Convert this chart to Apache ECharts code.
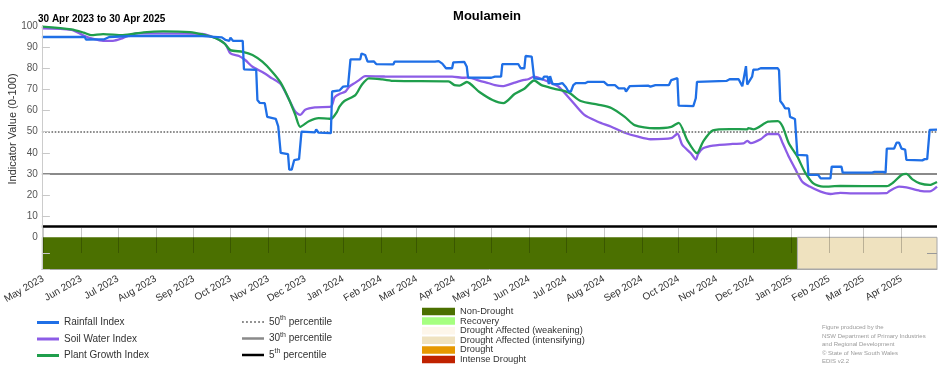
<!DOCTYPE html>
<html><head><meta charset="utf-8">
<script src="https://cdn.jsdelivr.net/npm/echarts@6/dist/echarts.min.js"></script>
<style>html,body{margin:0;padding:0;background:#fff}#c{width:952px;height:370px}</style>
</head><body><div id="c"></div>
<script>
const titleText = 'Moulamein';
const subtitleText = '30 Apr 2023 to 30 Apr 2025';
const yAxisTitle = 'Indicator Value (0-100)';
const startDate = '2023-04-30';
const endDate = '2025-04-30';
const monthNames = ['Jan','Feb','Mar','Apr','May','Jun','Jul','Aug','Sep','Oct','Nov','Dec'];
const monthTicks = ['2023-05-01','2023-06-01','2023-07-01','2023-08-01','2023-09-01','2023-10-01','2023-11-01','2023-12-01',
  '2024-01-01','2024-02-01','2024-03-01','2024-04-01','2024-05-01','2024-06-01','2024-07-01','2024-08-01','2024-09-01',
  '2024-10-01','2024-11-01','2024-12-01','2025-01-01','2025-02-01','2025-03-01','2025-04-01'];
const yTickLabels = [0,10,20,30,40,50,60,70,80,90,100];
const yMin = -15, yMax = 100;

const rainfallIndex = [
['2023-04-30',94.8],['2023-06-04',94.8],['2023-06-05',93.6],['2023-06-20',93.7],['2023-06-24',94.8],['2023-07-16',95.3],
['2023-09-08',95.2],['2023-09-24',94.6],['2023-09-27',93.4],['2023-09-30',93.0],['2023-10-01',94.5],['2023-10-03',93.0],
['2023-10-11',93.0],['2023-10-12',79.5],['2023-10-22',79.3],['2023-10-23',65.0],['2023-10-25',63.6],['2023-10-29',63.5],
['2023-10-31',57.0],['2023-11-07',56.0],['2023-11-09',52.5],['2023-11-11',40.0],['2023-11-17',39.4],['2023-11-18',32.0],
['2023-11-20',32.0],['2023-11-22',36.5],['2023-11-26',37.0],['2023-11-28',50.0],['2023-12-09',49.7],['2023-12-10',51.0],
['2023-12-12',49.5],['2023-12-22',49.3],['2023-12-23',69.0],['2023-12-29',69.5],['2024-01-01',71.3],['2024-01-05',71.5],
['2024-01-07',84.2],['2024-01-15',84.2],['2024-01-16',87.0],['2024-01-19',86.3],['2024-01-21',83.1],['2024-01-26',83.3],
['2024-01-28',82.0],['2024-02-11',81.8],['2024-02-12',83.1],['2024-03-16',83.1],['2024-03-19',83.4],['2024-03-22',82.2],
['2024-03-25',80.0],['2024-03-30',80.0],['2024-03-31',82.8],['2024-04-09',83.0],['2024-04-11',80.7],['2024-04-12',75.6],
['2024-05-01',75.5],['2024-05-04',76.0],['2024-05-09',76.0],['2024-05-10',82.0],['2024-05-23',82.0],['2024-05-25',80.0],
['2024-05-28',80.0],['2024-05-29',85.8],['2024-06-03',85.5],['2024-06-05',75.2],['2024-06-12',74.8],['2024-06-13',76.0],
['2024-06-16',76.0],['2024-06-17',72.5],['2024-06-18',76.3],['2024-06-20',72.5],['2024-06-25',72.5],['2024-06-28',73.0],
['2024-07-01',71.0],['2024-07-03',69.0],['2024-07-05',69.0],['2024-07-07',72.0],['2024-07-09',73.0],['2024-07-17',73.0],
['2024-07-19',73.6],['2024-08-01',73.6],['2024-08-04',72.0],['2024-08-10',72.0],['2024-08-13',70.5],['2024-08-18',70.5],
['2024-08-19',69.0],['2024-08-22',71.5],['2024-09-06',71.8],['2024-09-08',71.3],['2024-09-12',72.0],['2024-09-23',72.0],
['2024-09-25',74.4],['2024-09-30',75.3],['2024-10-01',62.3],['2024-10-13',62.1],['2024-10-15',65.8],['2024-10-16',73.6],
['2024-11-09',74.0],['2024-11-12',74.9],['2024-11-19',74.8],['2024-11-22',71.5],['2024-11-25',81.0],['2024-11-26',72.3],
['2024-11-30',76.0],['2024-12-01',79.3],['2024-12-05',79.5],['2024-12-07',80.0],['2024-12-21',80.0],['2024-12-22',79.0],
['2024-12-23',64.5],['2024-12-25',63.0],['2024-12-27',61.0],['2024-12-30',61.0],['2024-12-31',57.0],['2025-01-04',56.0],
['2025-01-06',39.0],['2025-01-14',38.8],['2025-01-15',29.5],['2025-01-23',29.5],['2025-01-25',27.9],['2025-02-02',27.9],
['2025-02-03',33.4],['2025-02-11',33.4],['2025-02-12',30.6],['2025-03-08',30.6],['2025-03-10',31.0],['2025-03-17',31.0],
['2025-03-18',30.6],['2025-03-19',30.6],['2025-03-20',42.0],['2025-03-26',42.0],['2025-03-28',44.8],['2025-03-30',44.8],
['2025-04-01',42.0],['2025-04-04',41.5],['2025-04-05',36.6],['2025-04-18',36.4],['2025-04-20',37.0],['2025-04-22',37.0],
['2025-04-24',50.8],['2025-04-30',51.0]
];

const soilWaterIndex = [
['2023-04-30',98.9],['2023-05-24',98.2],['2023-06-03',95.5],['2023-06-11',93.9],['2023-06-19',93.0],['2023-06-27',93.0],
['2023-07-05',94.3],['2023-07-11',95.7],['2023-07-16',96.5],['2023-09-08',96.3],['2023-09-14',95.4],['2023-09-22',93.4],
['2023-09-27',91.3],['2023-10-01',87.0],['2023-10-08',85.8],['2023-10-13',83.9],['2023-10-19',80.7],['2023-10-27',78.2],
['2023-11-04',75.2],['2023-11-11',72.5],['2023-11-18',65.0],['2023-11-23',59.4],['2023-11-27',57.9],['2023-12-01',60.4],
['2023-12-09',61.5],['2023-12-22',61.8],['2023-12-25',66.2],['2023-12-29',67.8],['2024-01-03',69.0],['2024-01-06',71.3],
['2024-01-11',73.2],['2024-01-14',74.4],['2024-01-19',76.3],['2024-02-04',76.1],['2024-03-30',76.0],['2024-04-09',75.5],
['2024-04-12',75.6],['2024-04-23',73.8],['2024-04-29',72.9],['2024-05-04',72.0],['2024-05-10',71.5],['2024-05-20',73.2],
['2024-05-28',74.5],['2024-05-31',74.8],['2024-06-05',76.0],['2024-06-11',74.9],['2024-06-21',72.5],['2024-06-25',71.3],
['2024-07-05',65.0],['2024-07-16',57.9],['2024-07-27',54.7],['2024-08-07',52.3],['2024-08-18',49.5],['2024-08-29',47.6],
['2024-09-08',46.4],['2024-09-25',46.9],['2024-09-30',49.0],['2024-10-04',43.7],['2024-10-11',39.8],['2024-10-15',36.8],
['2024-10-17',39.5],['2024-10-21',42.1],['2024-10-29',43.4],['2024-11-14',44.2],['2024-11-23',44.4],['2024-11-26',45.6],
['2024-11-29',44.6],['2024-12-07',46.4],['2024-12-13',48.9],['2024-12-21',48.9],['2024-12-25',44.5],['2024-12-30',38.1],
['2025-01-04',32.6],['2025-01-10',26.3],['2025-01-16',24.0],['2025-01-25',21.6],['2025-02-02',20.5],['2025-02-10',21.0],
['2025-02-20',20.8],['2025-03-20',20.9],['2025-03-22',21.8],['2025-03-30',24.0],['2025-04-05',23.6],['2025-04-16',22.0],
['2025-04-24',21.7],['2025-04-30',24.0]
];

const plantGrowthIndex = [
['2023-04-30',99.7],['2023-05-24',98.4],['2023-06-03',96.9],['2023-06-09',95.7],['2023-06-19',96.2],['2023-07-05',95.7],
['2023-07-22',97.0],['2023-08-07',97.5],['2023-08-29',97.1],['2023-09-08',96.0],['2023-09-19',94.2],['2023-09-26',91.8],
['2023-10-01',88.6],['2023-10-11',87.8],['2023-10-19',86.3],['2023-10-27',83.1],['2023-11-04',78.4],['2023-11-11',73.2],
['2023-11-18',65.0],['2023-11-23',57.9],['2023-11-27',52.3],['2023-12-04',54.9],['2023-12-12',56.4],['2023-12-21',56.1],
['2023-12-23',56.3],['2023-12-27',59.4],['2023-12-29',61.8],['2024-01-02',64.5],['2024-01-11',67.3],['2024-01-16',72.0],
['2024-01-22',75.2],['2024-02-02',74.7],['2024-02-12',74.0],['2024-03-27',73.8],['2024-04-01',72.0],['2024-04-05',71.8],
['2024-04-11',73.5],['2024-04-21',68.9],['2024-05-02',65.0],['2024-05-11',63.5],['2024-05-20',67.8],['2024-05-28',70.3],
['2024-06-05',74.2],['2024-06-11',72.0],['2024-06-21',70.4],['2024-07-03',68.6],['2024-07-13',64.5],['2024-07-27',62.8],
['2024-08-07',61.2],['2024-08-18',57.0],['2024-08-26',53.1],['2024-09-11',51.6],['2024-09-25',52.3],['2024-10-01',54.2],
['2024-10-08',46.0],['2024-10-16',39.8],['2024-10-21',45.3],['2024-10-29',50.6],['2024-11-12',51.2],['2024-11-26',51.1],
['2024-11-27',51.7],['2024-12-01',51.1],['2024-12-13',54.7],['2024-12-21',55.0],['2024-12-25',52.3],['2024-12-30',44.5],
['2025-01-06',38.1],['2025-01-12',31.0],['2025-01-19',25.5],['2025-01-27',24.0],['2025-02-10',24.3],['2025-03-20',24.2],
['2025-03-25',25.8],['2025-04-01',29.5],['2025-04-05',30.0],['2025-04-10',27.4],['2025-04-16',25.5],['2025-04-24',24.8],
['2025-04-30',26.2]
];

const indexNames = ['Rainfall Index','Soil Water Index','Plant Growth Index'];
const indexColors = ['#1f6fe6','#8c5ce6','#1f9e4c'];

const percentileNames = ['50th percentile','30th percentile','5th percentile'];
const percentileValues = [50, 30, 5];
const percentileColors = ['#8a8a8a','#8a8a8a','#000000'];

const droughtCategories = ['Non-Drought','Recovery','Drought Affected (weakening)','Drought Affected (intensifying)','Drought','Intense Drought'];
const droughtColors = ['#4b7000','#a6ff80','#fdf6ea','#efe2bf','#e69800','#c02200'];
const statusStart = ['2023-04-30','2025-01-06'];
const statusEnd = ['2025-01-06','2025-04-30'];
const statusCategory = ['Non-Drought','Drought Affected (intensifying)'];

const footerLines = ['Figure produced by the','NSW Department of Primary Industries','and Regional Development','\u00A9 State of New South Wales','EDIS v2.2'];

const FONT = '"Liberation Sans", Arial, sans-serif';
const toTs = s => { const [y,m,d] = s.split('-').map(Number); return Date.UTC(y, m-1, d); };
const tickTs = monthTicks.map(toTs);
const fmtMonth = v => { const d = new Date(v); return monthNames[d.getUTCMonth()] + ' ' + d.getUTCFullYear(); };

const chart = echarts.init(document.getElementById('c'), null, {renderer:'canvas'});

const lineSeries = [rainfallIndex, soilWaterIndex, plantGrowthIndex].map((arr, i) => ({
  type:'line', name: indexNames[i], data: arr.map(([d,v]) => [toTs(d), v]),
  showSymbol:false, symbol:'none', smooth: i === 0 ? false : 0.25,
  color: indexColors[i], lineStyle:{width:2.3, color: indexColors[i]},
  z: [6,4,5][i], silent:true, animation:false
}));

const pctStyles = [
  {type:[1.6,1.6], width:1.8},
  {type:'solid', width:2},
  {type:'solid', width:2.6}
];
const pctSeries = percentileNames.map((n, i) => ({
  type:'line', name:n, data:[], color: percentileColors[i], showSymbol:false,
  markLine:{silent:true, symbol:'none', label:{show:false}, animation:false,
    data:[{yAxis: percentileValues[i]}],
    lineStyle:Object.assign({color: percentileColors[i]}, pctStyles[i])},
  z:3, animation:false
}));

const statusSeries = droughtCategories.map((cat, ci) => ({
  type:'custom', name: cat, itemStyle:{color: droughtColors[ci]},
  data: statusCategory.map((c, k) => c === cat ? [toTs(statusStart[k]), toTs(statusEnd[k])] : null).filter(Boolean),
  encode:{x:[0,1]},
  renderItem:(params, api) => {
    const p0 = api.coord([api.value(0), 0]);
    const p1 = api.coord([api.value(1), yMin]);
    return {type:'rect', shape:{x:p0[0], y:p0[1], width:p1[0]-p0[0], height:p1[1]-p0[1]},
      style:{fill: droughtColors[ci], stroke: ci === 0 ? null : '#a8a8a8', lineWidth: 1}};
  },
  clip:true, z:2, silent:true, animation:false
}));

const dotIcon = 'path://M0,0h1.6v2h-1.6zM3.6,0h1.6v2h-1.6zM7.2,0h1.6v2h-1.6zM10.8,0h1.6v2h-1.6zM14.4,0h1.6v2h-1.6zM18,0h1.6v2h-1.6z';

chart.setOption({
  animation:false,
  textStyle:{fontFamily: FONT},
  title:[
    {text:titleText, left:482, textAlign:'center', top:5, textStyle:{fontSize:13, fontWeight:'bold', color:'#000', fontFamily:FONT}},
    {text:subtitleText, left:33, top:9, textStyle:{fontSize:10, fontWeight:'bold', color:'#000', fontFamily:FONT}}
  ],
  grid:{left:38, right:15, top:26, bottom:101, containLabel:false},
  xAxis:[
    {type:'value', min:toTs(startDate), max:toTs(endDate), gridIndex:0, scale:true, position:'bottom',
     axisLine:{show:true, onZero:false, lineStyle:{color:'#a8a8a8', width:1}},
     axisTick:{show:false},
     splitLine:{show:false},
     axisLabel:{customValues: tickTs, rotate:30, margin:9, fontSize:10, color:'#333', fontFamily:FONT, formatter: fmtMonth}},
    {type:'value', min:toTs(startDate), max:toTs(endDate), gridIndex:0, scale:true, position:'bottom', offset:-16, z:8,
     axisLine:{show:false, onZero:false}, splitLine:{show:false}, axisLabel:{show:false},
     axisTick:{show:true, inside:true, length:25, customValues: tickTs, lineStyle:{color:'rgba(0,0,0,0.22)', width:1}}}
  ],
  yAxis:[
    {type:'value', min:yMin, max:yMax, z:8,
     axisLine:{show:true, onZero:false, lineStyle:{color:'#cccccc', width:1}},
     axisTick:{show:true, inside:true, length:8, customValues:[-15,-7.5,10,20,30,40,50,60,70,80,90], lineStyle:{color:'#c8c8c8'}},
     axisLabel:{customValues: yTickLabels, fontSize:10, color:'#555', margin:4, fontFamily:FONT},
     splitLine:{show:false}},
    {type:'value', min:yMin, max:yMax, position:'right', z:8,
     axisLine:{show:false, onZero:false}, axisLabel:{show:false}, splitLine:{show:false},
     axisTick:{show:true, inside:true, length:10, customValues:[-7.5], lineStyle:{color:'#999'}}}
  ],
  legend:[
    {data: indexNames.map(n => ({name:n, icon:'rect'})), orient:'vertical', left:37, top:316, padding:0, height:80,
     itemWidth:22, itemHeight:3, itemGap:3.5, selectedMode:false,
     textStyle:{fontSize:10, color:'#333', fontFamily:FONT, lineHeight:13}},
    {data: percentileNames.map((n,i) => ({name:n, icon: i === 0 ? dotIcon : 'rect'})), orient:'vertical', left:242, top:315,
     padding:0, height:80, itemWidth:22, itemHeight:2.5, itemGap:2.5, selectedMode:false,
     formatter: n => n.replace(/^(\d+)th/, '$1{sup|th}'),
     textStyle:{fontSize:10, color:'#333', fontFamily:FONT, lineHeight:14,
       rich:{sup:{fontSize:7, lineHeight:7, verticalAlign:'top', color:'#333', fontFamily:FONT}}}},
    {data: droughtCategories.map(n => ({name:n, icon:'rect'})), orient:'vertical', left:422, top:307,
     padding:0, height:120, itemWidth:33, itemHeight:7.5, itemGap:0.6, selectedMode:false,
     textStyle:{fontSize:9.3, color:'#333', fontFamily:FONT, lineHeight:8}}
  ],
  graphic:[
    {type:'text', x:13, y:129, rotation:Math.PI/2,
     style:{text:yAxisTitle, font:'11px ' + FONT, fill:'#333', align:'center', verticalAlign:'middle'}},
    {type:'text', x:822, y:323,
     style:{text:footerLines.join('\n'), font:'6px ' + FONT, fill:'#9a9a9a', lineHeight:8.6, align:'left', verticalAlign:'top'}}
  ],
  series: [...statusSeries, ...pctSeries, ...lineSeries]
});
</script>
</body></html>
